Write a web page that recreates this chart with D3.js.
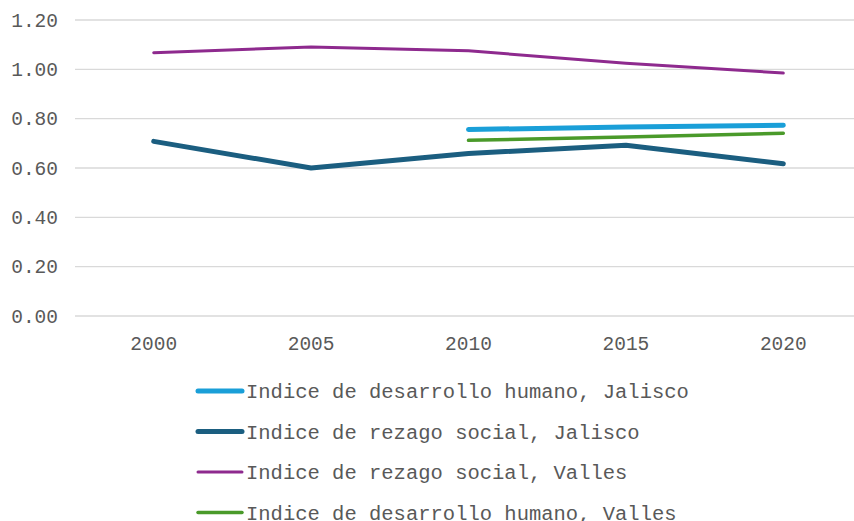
<!DOCTYPE html>
<html><head><meta charset="utf-8">
<script src="https://cdn.jsdelivr.net/npm/d3@7"></script>
<style>body{margin:0;background:#fff}svg{display:block}text{font-family:"Liberation Mono",monospace;fill:#595959}</style>
</head><body><svg id="c" width="854" height="521"></svg>
<script>
const years = ["2000","2005","2010","2015","2020"];
const yTicks = [0,0.2,0.4,0.6,0.8,1.0,1.2];
const seriesNames = ["Indice de desarrollo humano, Jalisco","Indice de rezago social, Jalisco","Indice de rezago social, Valles","Indice de desarrollo humano, Valles"];
const idhJalisco = [null,null,0.756,0.766,0.773];
const irsJalisco = [0.708,0.600,0.659,0.692,0.617];
const irsValles = [1.067,1.091,1.075,1.025,0.985];
const idhValles = [null,null,0.712,0.726,0.741];
const colors = ["#1a9fd8","#1b5e80","#8e2a8e","#4a9a2a"];
const widths = [5,5,3,3.5];

const svg = d3.select("#c");
const x = d3.scaleBand().domain(years).range([75,862]);
const y = d3.scaleLinear().domain([0,1.2]).range([316,20]);

svg.append("g").selectAll("line").data(yTicks).join("line")
  .attr("x1",75).attr("x2",854).attr("y1",d=>y(d)).attr("y2",d=>y(d))
  .attr("stroke","#d9d9d9").attr("stroke-width",1.3);
svg.append("g").selectAll("text").data(yTicks).join("text")
  .attr("x",58).attr("y",d=>y(d)).attr("dy","0.35em").attr("text-anchor","end")
  .attr("font-size",19.5).text(d=>d3.format(".2f")(d));
svg.append("g").selectAll("text").data(years).join("text")
  .attr("x",d=>x(d)+x.bandwidth()/2).attr("y",350).attr("text-anchor","middle")
  .attr("font-size",19.5).text(d=>d);

const all = [idhJalisco,irsJalisco,irsValles,idhValles];
const order = [2,1,0,3];
const line = d3.line().defined(d=>d.v!=null).x(d=>x(d.y)+x.bandwidth()/2).y(d=>y(d.v));
order.forEach(i=>{
  svg.append("path").datum(years.map((yr,j)=>({y:yr,v:all[i][j]})))
    .attr("d",line).attr("fill","none").attr("stroke",colors[i])
    .attr("stroke-width",widths[i]).attr("stroke-linecap","round").attr("stroke-linejoin","round");
});

const lg = svg.append("g");
seriesNames.forEach((n,i)=>{
  const yy = 391 + i*40.5;
  lg.append("line").attr("x1",198).attr("x2",242).attr("y1",yy).attr("y2",yy)
    .attr("stroke",colors[i]).attr("stroke-width",widths[i]).attr("stroke-linecap","round");
  lg.append("text").attr("x",246).attr("y",yy).attr("dy","0.35em").attr("font-size",20.5).text(n);
});
</script></body></html>
